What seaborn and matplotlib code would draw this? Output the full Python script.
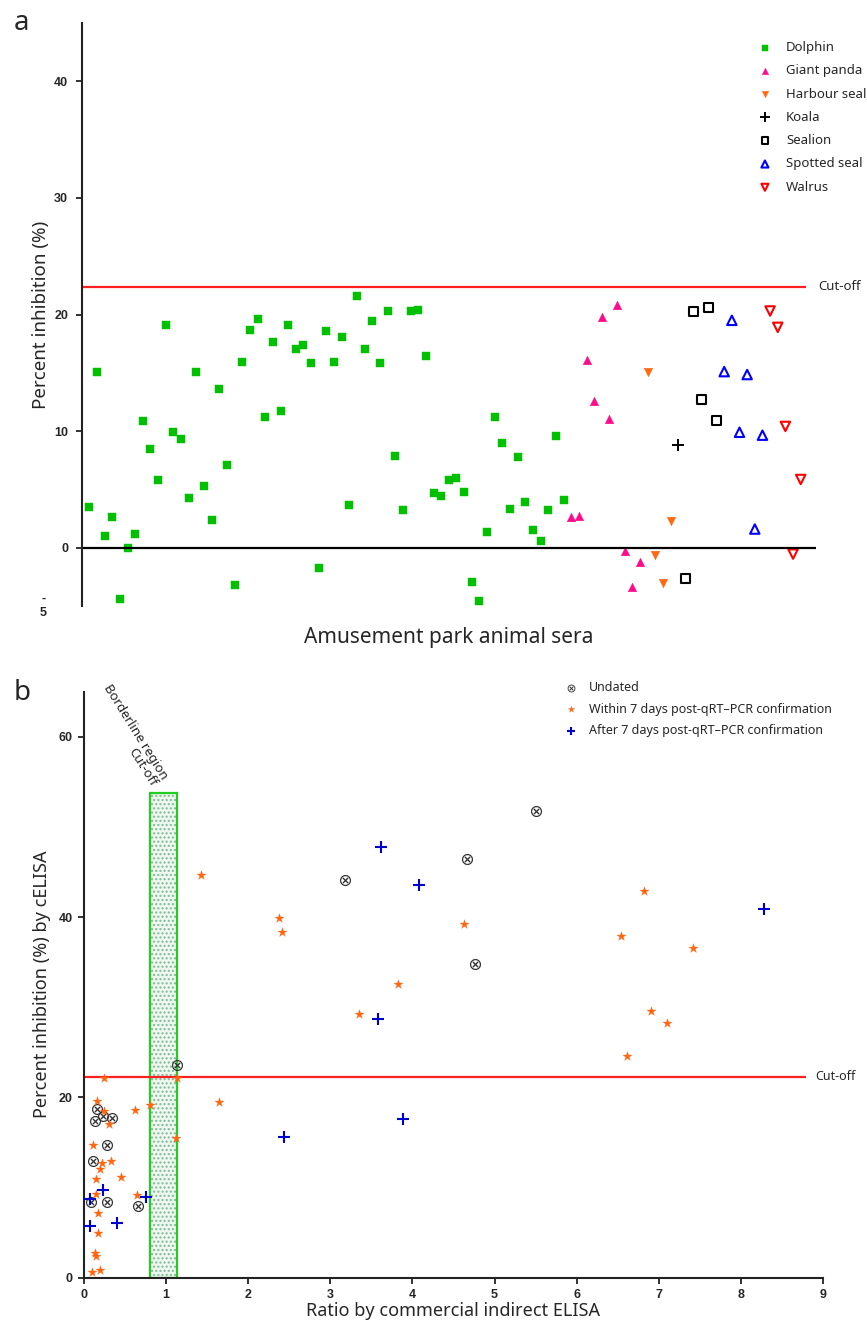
import numpy as np
import pandas as pd
import matplotlib
matplotlib.use("Agg")
import matplotlib.pyplot as plt
import matplotlib.transforms as mtransforms
import seaborn as sns
from matplotlib.patches import Rectangle

# ---------------- Panel a data (percent inhibition per serum, in sample order) ----------------
species_names = ["Dolphin", "Giant panda", "Harbour seal", "Koala", "Sealion", "Spotted seal", "Walrus"]
dolphin = [3.5, 15.1, 1.0, 2.6, -4.4, 0.0, 1.15, 10.9, 8.45, 5.8, 19.1, 9.9, 9.3, 4.3, 15.1, 5.3,
           2.4, 13.6, 7.1, -3.2, 15.9, 18.65, 19.6, 11.2, 17.65, 11.7, 19.1, 17.05, 17.4, 15.8,
           -1.75, 18.55, 15.9, 18.1, 3.7, 21.6, 17.0, 19.4, 15.8, 20.3, 7.85, 3.25, 20.3, 20.4,
           16.4, 4.65, 4.45, 5.8, 6.0, 4.8, -2.95, -4.55, 1.35, 11.2, 9.0, 3.35, 7.75, 3.9, 1.55,
           0.6, 3.2, 9.55, 4.1]
giant_panda = [2.65, 2.75, 16.1, 12.6, 19.8, 11.0, 20.8, -0.3, -3.4, -1.2]
harbour_seal = [15.05, -0.65, -3.0, 2.3]
koala = [8.8]
sealion = [-2.65, 20.3, 12.7, 20.6, 10.9]
spotted_seal = [15.1, 19.5, 9.9, 14.85, 1.6, 9.65]
walrus = [20.3, 18.9, 10.4, -0.55, 5.85]
cutoff_a = 22.4
a_yticks = [0, 10, 20, 30, 40]
a_yticklabels = ["0", "10", "20", "30", "40"]
a_ymin_label = "-\n5"

# ---------------- Panel b data ----------------
b_legend = ["Undated", "Within 7 days post-qRT\u2013PCR confirmation",
            "After 7 days post-qRT\u2013PCR confirmation"]
undated_x = [5.50, 4.66, 3.18, 4.76, 1.13, 0.16, 0.23, 0.134, 0.337, 0.28, 0.11, 0.09, 0.28, 0.66]
undated_y = [51.8, 46.4, 44.1, 34.8, 23.6, 18.7, 17.95, 17.4, 17.7, 14.7, 12.95, 8.37, 8.37, 7.9]
within_x = [1.42, 2.38, 2.41, 3.82, 3.35, 1.13, 1.65, 0.80, 1.12, 6.82, 4.63, 6.54, 7.42, 6.90,
            7.10, 6.61, 0.245, 0.155, 0.245, 0.31, 0.625, 0.11, 0.215, 0.325, 0.19, 0.146, 0.45,
            0.146, 0.64, 0.174, 0.174, 0.134, 0.146, 0.10, 0.195]
within_y = [44.7, 39.9, 38.3, 32.6, 29.2, 22.1, 19.5, 19.2, 15.55, 42.9, 39.2, 37.9, 36.6, 29.6,
            28.2, 24.6, 22.1, 19.6, 18.5, 17.1, 18.6, 14.7, 12.7, 12.95, 12.1, 11.0, 11.2,
            9.3, 9.2, 7.2, 5.0, 2.7, 2.4, 0.67, 0.85]
after_x = [3.62, 4.08, 3.58, 3.89, 2.43, 8.28, 0.235, 0.76, 0.075, 0.405, 0.073]
after_y = [47.8, 43.55, 28.7, 17.6, 15.6, 40.9, 9.73, 9.0, 8.7, 6.1, 5.74]
cutoff_b = 22.3
borderline_low, borderline_high, borderline_top = 0.8, 1.13, 53.8
b_xticks = list(range(0, 10))
b_yticks = [0, 20, 40, 60]

# ---------------- style ----------------
sns.set_style("ticks")
plt.rcParams["font.family"] = ["Noto Sans", "DejaVu Sans"]
TICKFONT = dict(family=["Liberation Sans Narrow", "Liberation Sans", "DejaVu Sans"],
                weight="bold", size=9)

W, H = 867, 1330
fig = plt.figure(figsize=(W / 100, H / 100), dpi=100)

def fx(px):
    return px / W

def fy(py):
    return 1 - py / H

axa = fig.add_axes([fx(82), fy(606), fx(816) - fx(82), fy(23) - fy(606)])
axb = fig.add_axes([fx(84), fy(1277.7), fx(823) - fx(84), fy(691.7) - fy(1277.7)])

# ---------------- panel a ----------------
values_a = [dolphin, giant_panda, harbour_seal, koala, sealion, spotted_seal, walrus]
rows = []
for name, vals in zip(species_names, values_a):
    for v in vals:
        rows.append((name, v))
df_a = pd.DataFrame(rows, columns=["species", "value"])
df_a["idx"] = np.arange(1, len(df_a) + 1)

styles = {
    "Dolphin": dict(marker="s", color="#00c000", filled=True, s=26),
    "Giant panda": dict(marker="^", color="#ff0a8c", filled=True, s=38),
    "Harbour seal": dict(marker="v", color="#ff6a10", filled=True, s=38),
    "Koala": dict(marker="+", color="black", filled=True, s=75),
    "Sealion": dict(marker="s", color="black", filled=False, s=42),
    "Spotted seal": dict(marker="^", color="#0000ff", filled=False, s=46),
    "Walrus": dict(marker="v", color="#ff0000", filled=False, s=46),
}
for name in species_names:
    st = styles[name]
    sub = df_a[df_a["species"] == name]
    if st["marker"] == "+":
        sns.scatterplot(data=sub, x="idx", y="value", marker="+", color=st["color"],
                        s=st["s"], linewidth=1.4, label=name, ax=axa)
    elif st["filled"]:
        sns.scatterplot(data=sub, x="idx", y="value", marker=st["marker"], color=st["color"],
                        s=st["s"], edgecolor=st["color"], linewidth=0.3, label=name, ax=axa)
    else:
        sns.scatterplot(data=sub, x="idx", y="value", marker=st["marker"], color=st["color"],
                        s=st["s"], edgecolor=st["color"], linewidth=1.5, label=name, ax=axa)
        coll = axa.collections[-1]
        coll.set_facecolor("none")
        coll.set_edgecolor(st["color"])

axa.set_xlim(0.046, 96.0)
axa.set_ylim(-5, 45)
axa.axhline(0, color="black", lw=1.6, zorder=1)
axa.hlines(cutoff_a, 0.046, 94.7, color="#ff2020", lw=1.6, zorder=1)
axa.text(96.3, cutoff_a, "Cut-off", fontsize=9.5, va="center", ha="left", clip_on=False)
for sp in ["top", "right", "bottom"]:
    axa.spines[sp].set_visible(False)
axa.spines["left"].set_linewidth(1.5)
axa.spines["left"].set_color("#222222")
axa.set_xticks([])
axa.set_yticks(a_yticks)
axa.tick_params(axis="y", direction="out", length=4, width=1.3, color="#222222", pad=6)
axa.set_yticklabels(a_yticklabels, fontdict=TICKFONT)
trans_a = mtransforms.blended_transform_factory(axa.transAxes, axa.transData)
axa.text(-0.053, -5, a_ymin_label, transform=trans_a, ha="center", va="center",
         fontdict=TICKFONT, linespacing=1.2, clip_on=False)
axa.set_xlabel("Amusement park animal sera", fontsize=15)
axa.xaxis.set_label_coords(0.5, -0.036)
axa.set_ylabel("Percent inhibition (%)", fontsize=13.5)
axa.yaxis.set_label_coords(-0.043, 0.5)
axa.legend(loc="upper left", bbox_to_anchor=(fx(757), fy(41)), bbox_transform=fig.transFigure,
           frameon=False, fontsize=9.5, handlelength=1.2, handletextpad=1.0, labelspacing=0.78,
           borderaxespad=0, borderpad=0, markerscale=0.75)

# ---------------- panel b ----------------
axb.add_patch(Rectangle((borderline_low, 0), borderline_high - borderline_low, borderline_top,
                        facecolor="#eef8ee", edgecolor="#7fb898", hatch="....", lw=0, zorder=0.5))
axb.add_patch(Rectangle((borderline_low, 0), borderline_high - borderline_low, borderline_top,
                        facecolor="none", edgecolor="#22cc22", lw=1.6, zorder=0.6))

sns.scatterplot(x=undated_x, y=undated_y, marker="$\\otimes$", color="#333333", s=64,
                linewidth=0, label=b_legend[0], ax=axb, zorder=3)
sns.scatterplot(x=within_x, y=within_y, marker="*", color="#ff6611", s=48,
                edgecolor="#ff6611", linewidth=0.2, label=b_legend[1], ax=axb, zorder=3)
sns.scatterplot(x=after_x, y=after_y, marker="+", color="#0000cc", s=70,
                linewidth=1.5, label=b_legend[2], ax=axb, zorder=3)

axb.set_xlim(0, 9)
axb.set_ylim(0, 65)
axb.hlines(cutoff_b, 0, 8.79, color="#ff2020", lw=1.6, zorder=2)
axb.text(8.9, cutoff_b, "Cut-off", fontsize=9, va="center", ha="left", clip_on=False)
axb.text(0.78, 54.2, "Borderline region\nCut-off", rotation=-58, rotation_mode="anchor",
         ha="right", va="bottom", multialignment="right", fontsize=9.5, linespacing=1.0)
for sp in ["top", "right"]:
    axb.spines[sp].set_visible(False)
for sp in ["left", "bottom"]:
    axb.spines[sp].set_linewidth(1.5)
    axb.spines[sp].set_color("#222222")
axb.set_xticks(b_xticks)
axb.set_yticks(b_yticks)
axb.tick_params(direction="out", length=4, width=1.3, color="#222222", pad=4)
axb.set_xticklabels([str(t) for t in b_xticks], fontdict=TICKFONT)
axb.set_yticklabels([str(t) for t in b_yticks], fontdict=TICKFONT)
axb.set_xlabel("Ratio by commercial indirect ELISA", fontsize=13, labelpad=1)
axb.set_ylabel("Percent inhibition (%) by cELISA", fontsize=13)
axb.yaxis.set_label_coords(-0.044, 0.5)
axb.legend(loc="upper left", bbox_to_anchor=(fx(563), fy(681)), bbox_transform=fig.transFigure,
           frameon=False, fontsize=9, handlelength=1.2, handletextpad=0.9, labelspacing=0.68,
           borderaxespad=0, borderpad=0, markerscale=0.7)

fig.text(fx(14), fy(30), "a", fontsize=20)
fig.text(fx(14), fy(700), "b", fontsize=20)

fig.savefig("out.png", dpi=100)
